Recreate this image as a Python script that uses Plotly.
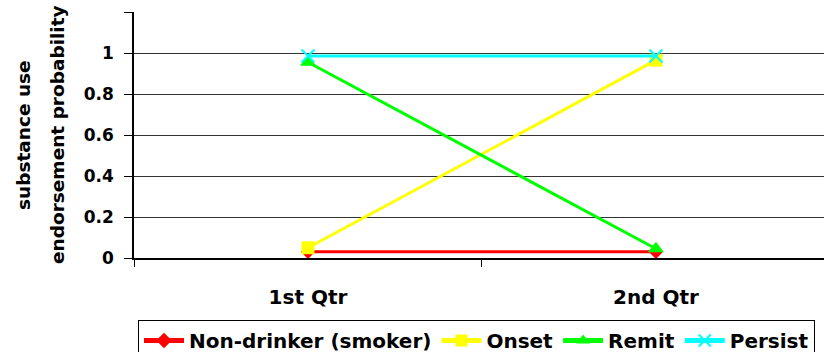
import plotly.graph_objects as go

# Quarters on the category axis
quarters = ["1st Qtr", "2nd Qtr"]

# Endorsement probability per group
non_drinker = [0.03, 0.03]
onset = [0.05, 0.965]
remit = [0.955, 0.045]
persist = [0.985, 0.985]

# Y ticks (the top gridline at 1.2 carries no label)
y_tickvals = [0, 0.2, 0.4, 0.6, 0.8, 1.0, 1.2]
y_ticktext = ["0", "0.2", "0.4", "0.6", "0.8", "1", ""]

# Two-line y-axis title
y_title_lines = ["substance use", "endorsement probability"]

FONT = "DejaVu Sans"
PLOT_LEFT = 134

series = [
    ("Non-drinker (smoker)", non_drinker, "#FF0000", "diamond", 11),
    ("Onset", onset, "#FFFF00", "square", 13),
    ("Remit", remit, "#00FF00", "triangle-up", 14),
    ("Persist", persist, "#00FFFF", "x-thin", 13),
]

fig = go.Figure()
for name, vals, color, symbol, size in series:
    fig.add_trace(go.Scatter(
        x=quarters, y=vals, name=name, mode="lines+markers",
        line=dict(color=color, width=3),
        marker=dict(symbol=symbol, size=size, color=color,
                    line=dict(color=color, width=2 if symbol == "x-thin" else 0)),
    ))

fig.update_layout(
    width=824, height=352,
    margin=dict(l=PLOT_LEFT, r=0, t=12, b=94, autoexpand=False),
    paper_bgcolor="white", plot_bgcolor="white",
    font=dict(family=FONT, size=18, color="black", weight="bold"),
    showlegend=True,
    legend=dict(
        orientation="h", xref="container", yref="container",
        x=138 / 824, y=(352 - 320) / 352, xanchor="left", yanchor="top",
        bordercolor="black", borderwidth=1, bgcolor="white",
        font=dict(family=FONT, size=20, color="black", weight="bold"),
        itemsizing="constant", tracegroupgap=0, itemwidth=40,
    ),
)

# Axis title drawn as two rotated lines
for line_text, xs in zip(y_title_lines, [-111, -77]):
    fig.add_annotation(
        text=line_text, xref="paper", yref="paper", x=0, y=0.5,
        xanchor="center", yanchor="middle", xshift=xs, textangle=-90,
        showarrow=False, font=dict(family=FONT, size=18.5, weight="bold", color="black"),
    )

fig.update_xaxes(
    type="category", range=[-0.5, 1.483],
    showline=True, linecolor="black", linewidth=1.5,
    ticks="outside", tickson="boundaries", ticklen=7, tickcolor="black",
    showgrid=False, ticklabelstandoff=20, automargin=False,
    tickfont=dict(family=FONT, size=20, weight="bold"),
)

fig.update_yaxes(
    range=[0, 1.2], tickvals=y_tickvals, ticktext=y_ticktext,
    showline=True, linecolor="black", linewidth=1.5,
    ticks="outside", ticklen=8, tickcolor="black",
    showgrid=True, gridcolor="#333333", gridwidth=1,
    zeroline=False, ticklabelstandoff=7, automargin=False,
    tickfont=dict(family=FONT, size=17, weight="bold"),
)

fig.write_html("out.html")
